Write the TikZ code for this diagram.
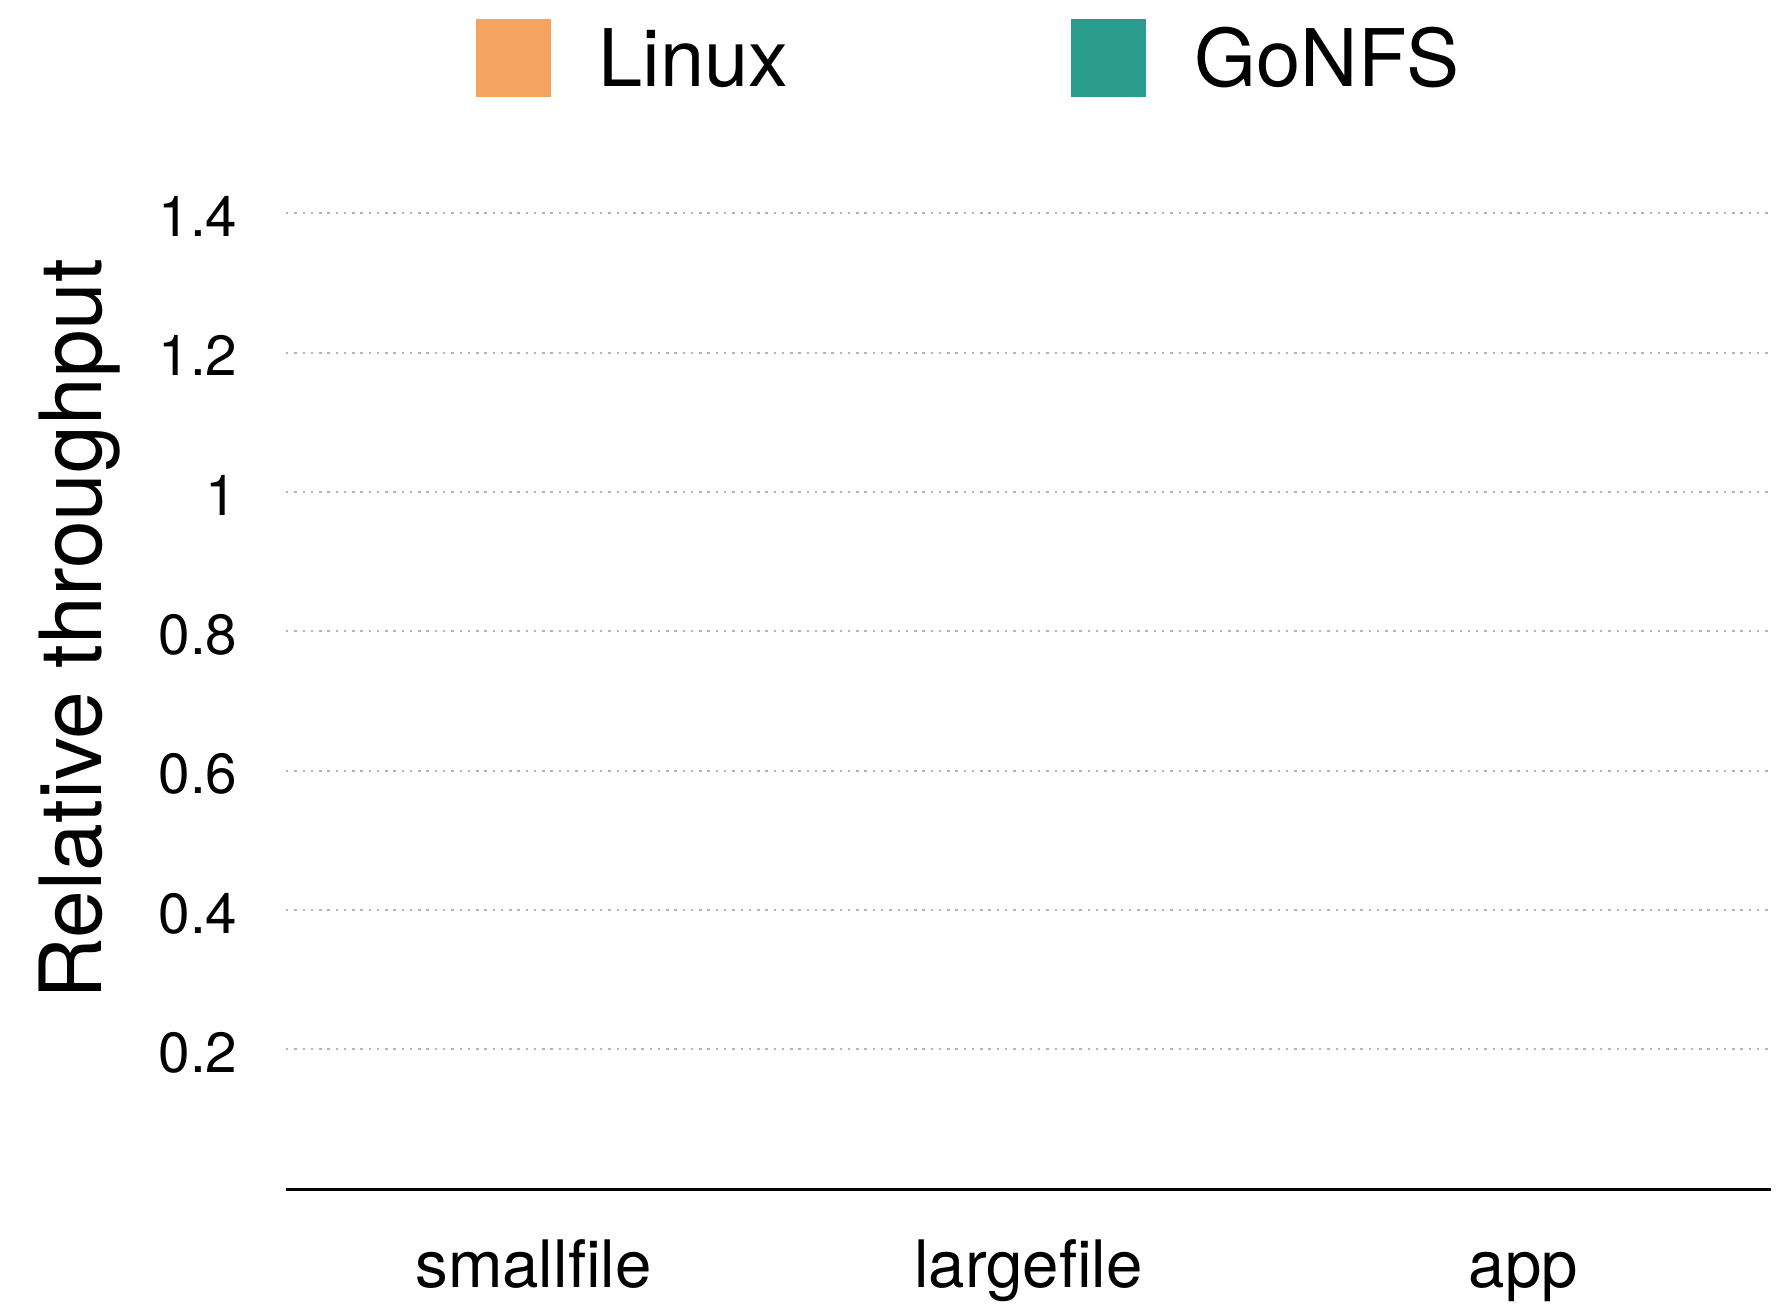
\documentclass[tikz,border=0pt]{standalone}
\usepackage{fontspec}
\setmainfont{TeX Gyre Heros}
\usepackage{tikz}
\definecolor{linuxorange}{HTML}{F4A460}
\definecolor{gonfsteal}{HTML}{2A9D8F}
\definecolor{gridgray}{HTML}{B4B4B4}
\tikzset{
	gridline/.style={line width=0.55pt, color=gridgray, dash pattern=on 0.7pt off 1.65pt},
	ticklabel/.style={anchor=base east, inner sep=0pt, font=\fontsize{16.1}{20}\selectfont},
	catlabel/.style={anchor=base, inner sep=0pt, font=\fontsize{18.6}{22}\selectfont},
	legendlabel/.style={anchor=base west, inner sep=0pt, font=\fontsize{22.6}{28}\selectfont},
	legendbox/.style={anchor=north west, inner sep=0pt, minimum width=0.75cm, minimum height=0.78cm}
}

\begin{document}
\begin{tikzpicture}[x=0.01cm, y=-0.01cm]
		%%%%% START %%%%%
		\useasboundingbox (0, 0) rectangle (1778, 1310);
		
		% legend
		\node[legendbox, fill=linuxorange] (linuxbox) at (475, 18) {};
		\node[legendlabel] (linuxlabel) at (598, 87) {Linux};
		\node[legendbox, fill=gonfsteal] (gonfsbox) at (1070, 18) {};
		\node[legendlabel] (gonfslabel) at (1194, 87) {GoNFS};
		
		% grid
		\draw[gridline] (286, 213.3) -- (1769, 213.3);
		\draw[gridline] (286, 352.7) -- (1769, 352.7);
		\draw[gridline] (286, 492.0) -- (1769, 492.0);
		\draw[gridline] (286, 631.3) -- (1769, 631.3);
		\draw[gridline] (286, 770.7) -- (1769, 770.7);
		\draw[gridline] (286, 910.0) -- (1769, 910.0);
		\draw[gridline] (286, 1049.3) -- (1769, 1049.3);
		
		\node[ticklabel] (tick14) at (238, 236.6) {1.4};
		\node[ticklabel] (tick12) at (238, 376.0) {1.2};
		\node[ticklabel] (tick10) at (238, 515.3) {1};
		\node[ticklabel] (tick08) at (238, 654.6) {0.8};
		\node[ticklabel] (tick06) at (238, 794.0) {0.6};
		\node[ticklabel] (tick04) at (238, 933.3) {0.4};
		\node[ticklabel] (tick02) at (238, 1072.6) {0.2};
		
		% axis
		\draw[line width=0.7pt] (286, 1189.5) -- (1771, 1189.5);
		
		\node[rotate=90, anchor=base, inner sep=0pt, font=\fontsize{24.4}{29}\selectfont] (ylabel) at (101.5, 629) {Relative throughput};
		
		\node[catlabel] (smallfile) at (533.5, 1288) {smallfile};
		\node[catlabel] (largefile) at (1028.5, 1288) {largefile};
		\node[catlabel] (app) at (1523.5, 1288) {app};
		%%%%% END %%%%%
	\end{tikzpicture}
\end{document}
